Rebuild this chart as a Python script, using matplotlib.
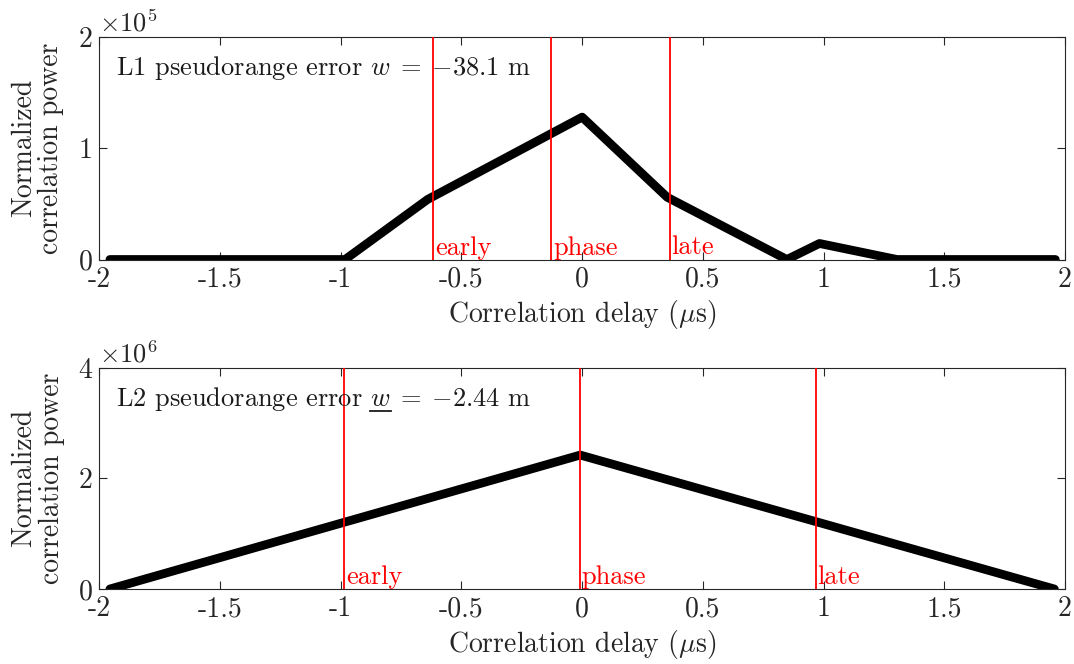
import matplotlib
matplotlib.use("Agg")
import matplotlib.pyplot as plt
import numpy as np

plt.rcParams['font.family'] = ['cmr10']
plt.rcParams['mathtext.fontset'] = 'cm'
plt.rcParams['axes.formatter.use_mathtext'] = True
plt.rcParams['axes.unicode_minus'] = False

# ---- data ----
l1_delay = [-1.956, -0.982, -0.64, 0.0, 0.352, 0.848, 0.983, 1.304, 1.96]
l1_power = [0.0, 0.0, 0.54, 1.28, 0.56, 0.0, 0.144, 0.0, 0.0]   # x1e5
l1_markers = [-0.616, -0.127, 0.362]
l2_delay = [-1.956, -0.008, 1.956]
l2_power = [0.0, 2.42, 0.0]   # x1e6
l2_markers = [-0.985, -0.008, 0.969]
marker_names = ['early', 'phase', 'late']
xticks = [-2, -1.5, -1, -0.5, 0, 0.5, 1, 1.5, 2]
xticklabels = ['-2', '-1.5', '-1', '-0.5', '0', '0.5', '1', '1.5', '2']
l1_yticks = [0, 1, 2]
l2_yticks = [0, 2, 4]

W, H = 1074, 664
fig = plt.figure(figsize=(W / 100, H / 100), dpi=100)
axc = '#262626'
fs = 20
fs_txt = 19

def make_axes(bottom_px, top_px):
    l = 99.3 / W
    r = 1065 / W
    b = 1 - bottom_px / H
    t = 1 - top_px / H
    return fig.add_axes([l, b, r - l, t - b])

ax1 = make_axes(259.5, 37)
ax2 = make_axes(589, 367.6)

def style(ax, yticks, ymax, exp):
    ax.set_xlim(-2, 2)
    ax.set_ylim(0, ymax)
    ax.set_xticks(xticks)
    ax.set_xticklabels(xticklabels)
    ax.set_yticks(yticks)
    ax.set_yticklabels([str(v) for v in yticks])
    ax.tick_params(direction='in', top=True, right=True, length=6, width=0.8,
                   colors=axc, labelsize=fs, labelcolor='#262626', pad=5)
    for s in ax.spines.values():
        s.set_color(axc)
        s.set_linewidth(0.8)
    ax.set_xlabel(r'Correlation delay ($\mu$s)', fontsize=fs, color='#262626', labelpad=4)
    ax.set_ylabel('Normalized\ncorrelation power', fontsize=fs, color='#262626',
                  linespacing=1.05, labelpad=10)
    ax.text(0.0, 1.0, r'$\times10^{%d}$' % exp, transform=ax.transAxes,
            fontsize=fs_txt, color='#262626', ha='left', va='bottom')

style(ax1, l1_yticks, 2, 5)
style(ax2, l2_yticks, 4, 6)

for ax, markers, ymax in ((ax1, l1_markers, 2), (ax2, l2_markers, 4)):
    for xm, name in zip(markers, marker_names):
        ax.plot([xm, xm], [0, ymax], color='red', lw=1.3, zorder=3)
        ax.text(xm + 0.006, 0.0, name, color='red', fontsize=fs_txt, ha='left',
                va='bottom', zorder=4)

ax1.plot(l1_delay, l1_power, color='black', lw=6.3, solid_capstyle='round',
         solid_joinstyle='round', zorder=2)
ax2.plot(l2_delay, l2_power, color='black', lw=6.3, solid_capstyle='round',
         solid_joinstyle='round', zorder=2)

ax1.text(-1.93, 1.66, r'L1 pseudorange error $w \;=\; {-}38.1$ m', fontsize=fs_txt,
         color='#1a1a1a', va='baseline')
t2 = ax2.text(-1.93, 3.3, r'L2 pseudorange error $w \;=\; {-}2.44$ m', fontsize=fs_txt,
              color='#1a1a1a', va='baseline')

fig.canvas.draw()
r = fig.canvas.get_renderer()
tmp = ax2.text(-1.93, 3.3, r'L2 pseudorange error $w$', fontsize=fs_txt, va='baseline', alpha=0)
tw = ax2.text(-1.93, 3.3, r'$w$', fontsize=fs_txt, va='baseline', alpha=0)
e1 = tmp.get_window_extent(r)
e2 = tw.get_window_extent(r)
x1 = e1.x1 - e2.width
x0b, yb = ax2.transData.transform((-1.93, 3.3))
inv = fig.transFigure.inverted()
pa = inv.transform((x1, yb - 5))
pb = inv.transform((e1.x1, yb - 5))
fig.add_artist(plt.Line2D([pa[0], pb[0]], [pa[1], pb[1]], color='#1a1a1a', lw=1.3))
tmp.remove()
tw.remove()

fig.savefig('out.png', dpi=100)
